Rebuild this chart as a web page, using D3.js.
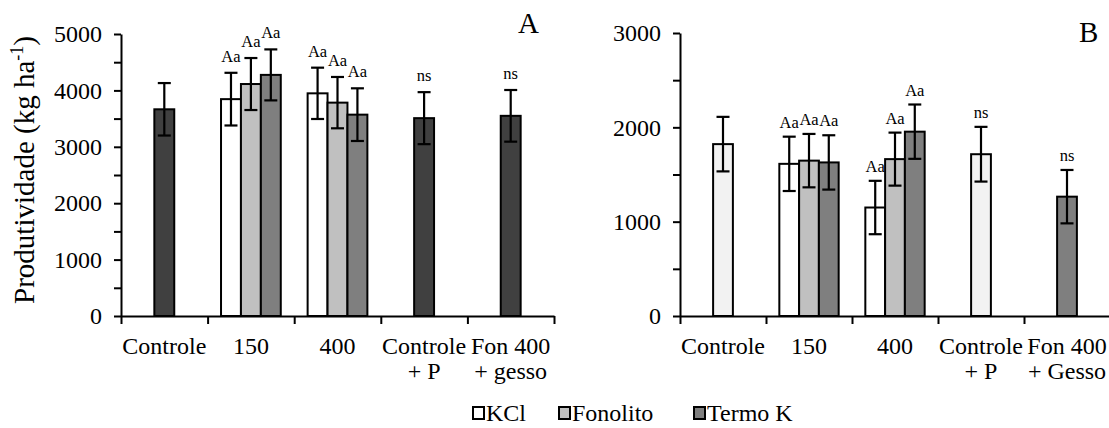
<!DOCTYPE html>
<head>
    <meta charset="utf-8">
    <title>Produtividade</title>
    <script src="https://d3js.org/d3.v7.min.js"></script>
    <style>
        body { margin: 0; background: #fff; }
        text { font-family: "Liberation Serif", "Times New Roman", serif; fill: #000; }
    </style>
</head>
<body>
    <script>
        // categories and series
        const categoriesA = ["Controle", "150", "400", "Controle|+ P", "Fon 400|+ gesso"]
        const categoriesB = ["Controle", "150", "400", "Controle|+ P", "Fon 400|+ Gesso"]
        const seriesNames = ["KCl", "Fonolito", "Termo K"]

        // panel A (kg/ha)
        const kclA = [null, 3845, 3948, null, null]
        const fonA = [null, 4113, 3783, null, null]
        const termoA = [null, 4275, 3570, null, null]
        const singleA = [3665, null, null, 3508, 3549]
        const kclErrA = [null, 467, 455, null, null]
        const fonErrA = [null, 461, 455, null, null]
        const termoErrA = [null, 452, 467, null, null]
        const singleErrA = [465, null, null, 461, 458]

        // panel B (kg/ha)
        const kclB = [null, 1613, 1150, null, null]
        const fonB = [null, 1647, 1663, null, null]
        const termoB = [null, 1628, 1954, null, null]
        const singleB = [1822, null, null, 1715, 1265]
        const kclErrB = [null, 288, 283, null, null]
        const fonErrB = [null, 283, 281, null, null]
        const termoErrB = [null, 288, 288, null, null]
        const singleErrB = [289, null, null, 290, 283]

        // letters over the bars
        const groupLetters = [null, "Aa", "Aa", null, null]
        const singleLetters = [null, null, null, "ns", "ns"]

        const yTicksA = d3.range(0, 5001, 500)
        const yTicksB = d3.range(0, 3001, 500)

        const width = 1109
        const height = 428

        const seriesFill = ["#ffffff", "#c0c0c0", "#7f7f7f"]

        const svg = d3.select("body").append("svg")
            .attr("width", width)
            .attr("height", height)

        function drawPanel(p) {
            const g = svg.append("g")
            const y = d3.scaleLinear().domain([0, p.yMax]).range([p.y0, p.y1])
            const xCat = d3.scaleBand().domain(d3.range(p.categories.length)).range([p.x0, p.x1])
            const barW = xCat.bandwidth() * 0.23

            const bars = []
            p.series.forEach((vals, s) => {
                vals.forEach((v, i) => {
                    if (v == null) return
                    const c = xCat(i) + xCat.bandwidth() / 2
                    bars.push({ x: c + (s - 1.5) * barW, v, e: p.seriesErr[s][i], fill: seriesFill[s], lab: groupLetters[i] })
                })
            })
            p.single.forEach((v, i) => {
                if (v == null) return
                const c = xCat(i) + xCat.bandwidth() / 2
                bars.push({ x: c - barW / 2, v, e: p.singleErr[i], fill: p.singleFill[i], lab: singleLetters[i] })
            })

            g.selectAll("rect.bar")
                .data(bars)
                .join("rect")
                    .attr("class", "bar")
                    .attr("x", d => d.x)
                    .attr("width", barW)
                    .attr("y", d => y(d.v))
                    .attr("height", d => y(0) - y(d.v))
                    .attr("fill", d => d.fill)
                    .attr("stroke", "#000")
                    .attr("stroke-width", 2)

            const err = g.selectAll("g.err")
                .data(bars)
                .join("g")
                    .attr("class", "err")
                    .attr("stroke", "#000")
                    .attr("stroke-width", 2.2)
            err.append("line")
                .attr("x1", d => d.x + barW / 2).attr("x2", d => d.x + barW / 2)
                .attr("y1", d => y(d.v + d.e)).attr("y2", d => y(d.v - d.e))
            err.append("line")
                .attr("x1", d => d.x + barW / 2 - 6.5).attr("x2", d => d.x + barW / 2 + 6.5)
                .attr("y1", d => y(d.v + d.e)).attr("y2", d => y(d.v + d.e))
            err.append("line")
                .attr("x1", d => d.x + barW / 2 - 6.5).attr("x2", d => d.x + barW / 2 + 6.5)
                .attr("y1", d => y(d.v - d.e)).attr("y2", d => y(d.v - d.e))

            g.selectAll("text.lab")
                .data(bars.filter(d => d.lab))
                .join("text")
                    .attr("class", "lab")
                    .attr("x", d => d.x + barW / 2)
                    .attr("y", d => y(d.v + d.e) - p.labGap)
                    .attr("text-anchor", "middle")
                    .style("font-size", "16.5px")
                    .text(d => d.lab)

            // y axis
            const ya = g.append("g")
                .attr("transform", `translate(${p.x0}, 0)`)
                .call(d3.axisLeft(y).tickValues(p.yTicks).tickSize(7).tickSizeOuter(0)
                    .tickPadding(12).tickFormat(d => d % 1000 === 0 ? d : ""))
            ya.selectAll("path, line").attr("stroke", "#000").attr("stroke-width", 2)
            ya.selectAll("text").style("font-size", "24px").style("font-family", "Liberation Serif, serif")

            // x axis with ticks between categories
            const xl = d3.scaleLinear().domain([0, p.categories.length]).range([p.x0, p.x1])
            const xa = g.append("g")
                .attr("transform", `translate(0, ${p.y0})`)
                .call(d3.axisBottom(xl).ticks(p.categories.length).tickSize(8).tickSizeOuter(0).tickFormat(""))
            xa.selectAll("path, line").attr("stroke", "#000").attr("stroke-width", 2)

            const cl = g.selectAll("text.cat")
                .data(p.categories)
                .join("text")
                    .attr("class", "cat")
                    .attr("text-anchor", "middle")
                    .style("font-size", "24px")
            cl.selectAll("tspan")
                .data((d, i) => d.split("|").map(t => ({ t, i })))
                .join("tspan")
                    .attr("x", d => xCat(d.i) + xCat.bandwidth() / 2)
                    .attr("y", (d, j) => p.y0 + 38 + j * 25)
                    .text(d => d.t)

            g.append("text")
                .attr("x", p.titleX)
                .attr("y", p.titleY)
                .style("font-size", "29px")
                .text(p.title)
        }

        drawPanel({
            categories: categoriesA, yMax: 5000, yTicks: yTicksA,
            x0: 121, x1: 554, y0: 316, y1: 34,
            series: [kclA, fonA, termoA], seriesErr: [kclErrA, fonErrA, termoErrA],
            single: singleA, singleErr: singleErrA,
            singleFill: ["#404040", null, null, "#404040", "#404040"],
            labGap: 11, title: "A", titleX: 518, titleY: 33
        })

        drawPanel({
            categories: categoriesB, yMax: 3000, yTicks: yTicksB,
            x0: 680, x1: 1110, y0: 316, y1: 33,
            series: [kclB, fonB, termoB], seriesErr: [kclErrB, fonErrB, termoErrB],
            single: singleB, singleErr: singleErrB,
            singleFill: ["#f2f2f2", null, null, "#f2f2f2", "#7f7f7f"],
            labGap: 9, title: "B", titleX: 1079, titleY: 42
        })

        // y axis title (panel A only)
        const yt = svg.append("text")
            .attr("transform", "translate(34, 170) rotate(-90)")
            .attr("text-anchor", "middle")
            .style("font-size", "29px")
        yt.append("tspan").text("Produtividade (kg ha")
        yt.append("tspan").attr("dy", -11).style("font-size", "18px").text("-1")
        yt.append("tspan").attr("dy", 11).text(")")

        // legend
        const legend = svg.append("g").attr("transform", "translate(472, 421)")
        const legX = [0, 86, 221]
        const li = legend.selectAll("g")
            .data(seriesNames)
            .join("g")
                .attr("transform", (d, i) => `translate(${legX[i]}, 0)`)
        li.append("rect")
            .attr("x", 1).attr("y", -14).attr("width", 11).attr("height", 12)
            .attr("fill", (d, i) => seriesFill[i])
            .attr("stroke", "#000").attr("stroke-width", 2)
        li.append("text")
            .attr("x", 14)
            .style("font-size", "24px")
            .text(d => d)
    </script>
</body>
